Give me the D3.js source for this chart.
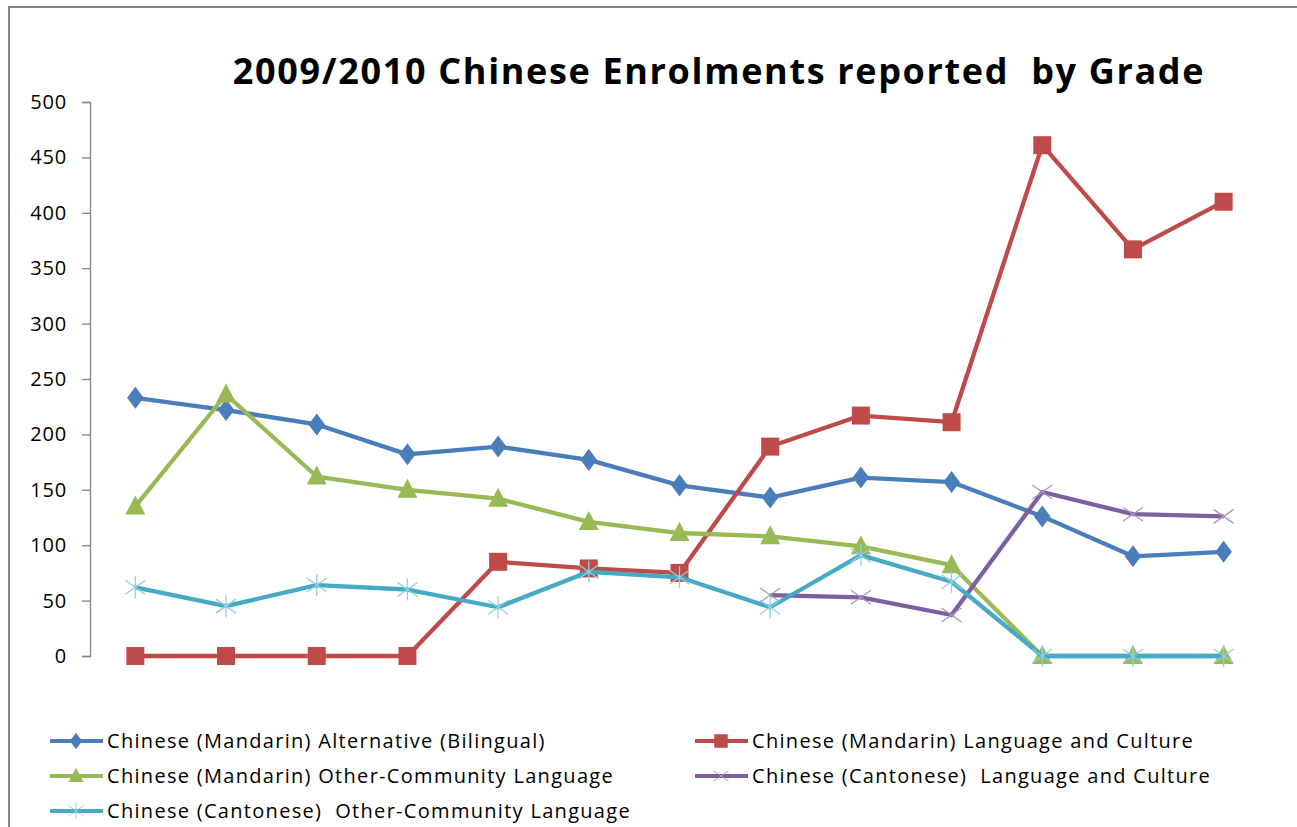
<!DOCTYPE html>
<html>
<head>
<meta charset="utf-8">
<script src="https://cdn.jsdelivr.net/npm/d3@7"></script>
<style>
  body { margin: 0; background: #fff; }
  text { font-family: "Open Sans", Lato, sans-serif; }
</style>
</head>
<body>
<script>
// consts
const width = 1297;
const height = 827;

// data: grades (no labels shown on the chart) and the five series
const grades = ["K", "1", "2", "3", "4", "5", "6", "7", "8", "9", "10", "11", "12"];
const mandarinBilingual = [233, 222, 209, 182, 189, 177, 154, 143, 161, 157, 126, 90, 94];
const mandarinLangCulture = [0, 0, 0, 0, 85, 79, 75, 189, 217, 211, 461, 367, 410];
const mandarinOtherCommunity = [135, 236, 162, 150, 142, 121, 111, 108, 99, 82, 0, 0, 0];
const cantoneseLangCulture = [null, null, null, null, null, null, null, 55, 53, 37, 148, 128, 126];
const cantoneseOtherCommunity = [62, 45, 64, 60, 44, 76, 71, 44, 91, 67, 0, 0, 0];
const yTicks = [0, 50, 100, 150, 200, 250, 300, 350, 400, 450, 500];

const seriesNames = [
  "Chinese (Mandarin) Alternative (Bilingual)",
  "Chinese (Mandarin) Language and Culture",
  "Chinese (Mandarin) Other-Community Language",
  "Chinese (Cantonese)  Language and Culture",
  "Chinese (Cantonese)  Other-Community Language"
];
const seriesValues = [mandarinBilingual, mandarinLangCulture, mandarinOtherCommunity, cantoneseLangCulture, cantoneseOtherCommunity];
const colors = ["#4a7ebb", "#be4b48", "#98b954", "#7d60a0", "#46aac5"];
const markers = ["diamond", "square", "triangle", "x", "star"];

const series = seriesNames.map((name, i) => ({
  name: name,
  color: colors[i],
  marker: markers[i],
  values: grades.map((g, j) => ({ grade: g, value: seriesValues[i][j] }))
}));

const svg = d3.select("body").append("svg")
  .attr("width", width)
  .attr("height", height);

// chart frame
svg.append("rect")
  .attr("x", 9).attr("y", 7)
  .attr("width", width + 20).attr("height", height + 20)
  .attr("fill", "none")
  .attr("stroke", "#868686")
  .attr("stroke-width", 2);

// title
svg.append("text")
  .attr("x", 719).attr("y", 84)
  .attr("text-anchor", "middle")
  .style("white-space", "pre")
  .attr("font-size", 36)
  .attr("font-weight", "bold")
  .attr("letter-spacing", 1.65)
  .attr("fill", "#000")
  .text("2009/2010 Chinese Enrolments reported  by Grade");

// scales
const xScale = d3.scalePoint()
  .domain(grades)
  .range([90, 1269])
  .padding(0.5);

const yScale = d3.scaleLinear()
  .domain([0, 500])
  .range([656, 102]);

// y axis
const leftAxis = d3.axisLeft(yScale)
  .tickValues(yTicks)
  .tickSizeOuter(0)
  .tickSize(8)
  .tickPadding(15);

const yAxisG = svg.append("g")
  .attr("transform", "translate(90,0)")
  .call(leftAxis);
yAxisG.select(".domain").attr("stroke", "#868686").attr("stroke-width", 1.3);
yAxisG.selectAll(".tick line").attr("stroke", "#868686").attr("stroke-width", 1.3);
yAxisG.selectAll(".tick text")
  .attr("font-size", 20)
  .attr("font-family", "'Open Sans', sans-serif")
  .attr("letter-spacing", 0.8)
  .attr("fill", "#000");

// lines
const line = d3.line()
  .defined(d => d.value !== null)
  .x(d => xScale(d.grade))
  .y(d => yScale(d.value));

// marker drawing
function drawMarker(g, type, color) {
  if (type === "diamond") {
    g.append("path").attr("d", d3.symbol(d3.symbolDiamond, 140)()).attr("fill", color)
      .attr("transform", "scale(1.3,1)");
  } else if (type === "square") {
    g.append("rect").attr("x", -9).attr("y", -9).attr("width", 18).attr("height", 18).attr("fill", color);
  } else if (type === "triangle") {
    g.append("path").attr("d", "M0,-11L10,8L-10,8Z").attr("fill", color);
  } else if (type === "x") {
    g.append("path").attr("d", "M-10,-7L10,7M-10,7L10,-7")
      .attr("stroke", "#a898c4").attr("stroke-width", 1.3).attr("fill", "none");
  } else if (type === "star") {
    g.append("path").attr("d", "M-10,-7L10,7M-10,7L10,-7M0,-11L0,11")
      .attr("stroke", "#8fd0e3").attr("stroke-width", 1.3).attr("fill", "none");
  }
}

// series drawn in Excel order
series.forEach(s => {
  svg.append("path")
    .datum(s.values)
    .attr("fill", "none")
    .attr("stroke", s.color)
    .attr("stroke-width", 4.3)
    .attr("stroke-linejoin", "round")
    .attr("d", line);

  s.values.filter(d => d.value !== null).forEach(d => {
    const g = svg.append("g")
      .attr("transform", "translate(" + xScale(d.grade) + "," + yScale(d.value) + ")");
    drawMarker(g, s.marker, s.color);
  });
});

// legend
const legendPos = [[50, 741], [695, 741], [50, 776], [695, 776], [50, 811]];
series.forEach((s, i) => {
  const lg = svg.append("g")
    .attr("transform", "translate(" + legendPos[i][0] + "," + legendPos[i][1] + ")");
  lg.append("line")
    .attr("x1", 0).attr("x2", 53)
    .attr("y1", 0).attr("y2", 0)
    .attr("stroke", s.color)
    .attr("stroke-width", 4);
  const m = lg.append("g").attr("transform", "translate(26,0) scale(0.75)");
  drawMarker(m, s.marker, s.color);
  lg.append("text")
    .attr("x", 57).attr("y", 7)
    .style("white-space", "pre")
    .attr("font-size", 20)
    .attr("letter-spacing", 1.3)
    .attr("fill", "#000")
    .text(s.name);
});
</script>
</body>
</html>
